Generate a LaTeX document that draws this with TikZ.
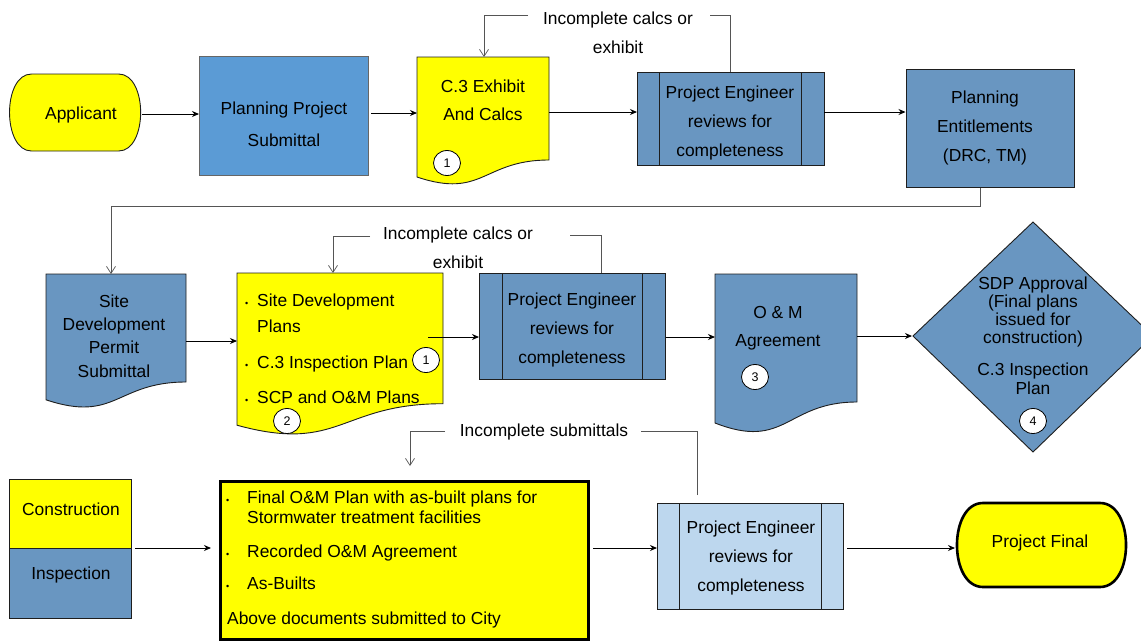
\documentclass[tikz,border=0pt]{standalone}
\usepackage{fontspec}
\setmainfont{Liberation Sans}
\usetikzlibrary{arrows.meta,shapes.geometric}
\definecolor{ylw}{RGB}{255,255,0}
\definecolor{bluA}{RGB}{91,155,213}
\definecolor{steel}{RGB}{105,150,193}
\definecolor{lblue}{RGB}{189,215,238}
\definecolor{edgec}{RGB}{30,30,30}
\definecolor{fbc}{RGB}{85,85,85}
\begin{document}
\begin{tikzpicture}[x=1pt,y=-1pt,
  shp/.style={draw=edgec, line width=0.9pt},
  thick box/.style={draw=black, line width=2.6pt},
  flow/.style={draw=black, line width=0.9pt, -{Stealth[length=7pt,width=6pt]}},
  fbarrow/.style={draw=fbc, line width=0.7pt, -{Straight Barb[length=7pt,width=9pt]}},
  fbline/.style={draw=fbc, line width=0.7pt},
  txt/.style={font=\fontsize{17.4}{29}\selectfont, align=center, inner sep=0pt},
  lbl/.style={font=\fontsize{17.4}{20}\selectfont, inner sep=0pt, anchor=base west},
  num/.style={ellipse, draw=black, line width=0.8pt, fill=white, minimum width=27pt, minimum height=25pt, inner sep=0pt, font=\fontsize{12.5}{12.5}\selectfont},
  bul/.style={font=\fontsize{9}{9}\selectfont, inner sep=0pt, anchor=base west},
  pp/.style={shp, anchor=north west},
]
\useasboundingbox (0,0) rectangle (1141,641);

% ---------------- Row 1 ----------------
% Applicant (terminator)
\draw[shp, fill=ylw] (31.5,74) -- (118.6,74) .. controls (148,74) and (148,151) .. (118.6,151)
  -- (31.5,151) .. controls (2.2,151) and (2.2,74) .. (31.5,74) -- cycle;
\node[txt] (app) at (81,114.5) {Applicant};
\coordinate (appE) at (142,114);

% Planning Project Submittal
\node[pp, fill=bluA, draw=black!60, minimum width=169pt, minimum height=119pt] (pps) at (199,56) {};
\node[txt, font=\fontsize{17.4}{32}\selectfont] (ppsT) at (284,124) {Planning Project\\Submittal};
\coordinate (ppsE) at (371,113);

% C.3 Exhibit document
\draw[shp, fill=ylw] (417,57) -- (549,57) -- (549,160) .. controls (483,160) and (483,199.2) .. (417,177) -- cycle;
\coordinate (c3W) at (417,113);
\coordinate (c3E) at (549,112);
\coordinate (c3N) at (484,57);
\node[txt, font=\fontsize{17.4}{28}\selectfont] (c3T) at (483,100) {C.3 Exhibit\\And Calcs};
\node[num] (n1a) at (447,163) {1};

% Project Engineer 1
\node[pp, fill=steel, minimum width=186.5pt, minimum height=93pt] (pe1) at (637,72) {};
\draw[shp] ([xshift=22pt]pe1.north west) -- ([xshift=22pt]pe1.south west);
\draw[shp] ([xshift=-22.5pt]pe1.north east) -- ([xshift=-22.5pt]pe1.south east);
\node[txt] (pe1T) at (730,123) {Project Engineer\\reviews for\\completeness};

% Planning Entitlements
\node[pp, fill=steel, minimum width=168.5pt, minimum height=118pt] (pent) at (905.5,69) {};
\node[txt] (pentT) at (985,128) {Planning\\Entitlements\\(DRC, TM)};

% arrows row 1
\draw[flow] (appE) -- (appE -| pps.west);
\draw[flow] (ppsE) -- (c3W);
\draw[flow] (c3E) -- (c3E -| pe1.west);
\draw[flow] (pe1.east |- c3E) -- (pent.west |- c3E);

% feedback 1
\node[txt] (fb1) at (618,33) {Incomplete calcs or\\exhibit};
\coordinate (fb1a) at (730,15);
\coordinate (fb1b) at (528,15);
\draw[fbline] (pe1.north -| fb1a) -- (fb1a) -- (710,15);
\draw[fbarrow] (fb1b) -- (fb1b -| c3N) -- (c3N);

% ---------------- Row 2 ----------------
% long feedback from Planning Entitlements to SDP submittal
\coordinate (lfA) at (980,206);
\coordinate (sdpN) at (111,274);
\draw[fbarrow] (pent.south -| lfA) -- (lfA) -- (lfA -| sdpN) -- (sdpN);

% Site Development Permit Submittal (document)
\draw[shp, fill=steel] (46,274) -- (186,274) -- (186,382) .. controls (116,382) and (116,423.2) .. (46,399.8) -- cycle;
\node[txt, font=\fontsize{17.4}{23.3}\selectfont] (sdpT) at (114,336) {Site\\Development\\Permit\\Submittal};
\coordinate (sdpE) at (186,341);

% Yellow document 2
\draw[shp, fill=ylw] (237,273) -- (443,273) -- (443,403.7) .. controls (340,403.7) and (340,453.5) .. (237,425.2) -- cycle;
\coordinate (y2W) at (237,341);
\coordinate (y2N) at (333,273);
\coordinate (y2A) at (428,337);
\node[bul] (b21) at (245,306) {•};
\node[lbl] (l21) at (257,306) {Site Development};
\node[lbl] (l22) at (257,332) {Plans};
\node[bul] (b22) at (245,368) {•};
\node[lbl] (l23) at (257,368) {C.3 Inspection Plan};
\node[bul] (b23) at (245,403) {•};
\node[lbl] (l24) at (257,403) {SCP and O\&M Plans};
\node[num] (n1b) at (426,360) {1};
\node[num] (n2) at (287,421) {2};

% Project Engineer 2
\node[pp, fill=steel, minimum width=186pt, minimum height=106pt] (pe2) at (479,273) {};
\draw[shp] ([xshift=23pt]pe2.north west) -- ([xshift=23pt]pe2.south west);
\draw[shp] ([xshift=-23pt]pe2.north east) -- ([xshift=-23pt]pe2.south east);
\node[txt] (pe2T) at (572,329.5) {Project Engineer\\reviews for\\completeness};

% O & M Agreement (document)
\draw[shp, fill=steel] (715,274) -- (857,274) -- (857,402) .. controls (786,402) and (786,450.8) .. (715,423) -- cycle;
\coordinate (omW) at (715,337);
\coordinate (omE) at (857,336);
\node[txt, font=\fontsize{17.4}{28}\selectfont] (omT) at (778,328) {O \& M\\Agreement};
\node[num] (n3) at (755,377) {3};

% Diamond
\draw[shp, fill=steel] (913,336) -- (1033,222) -- (1153,336) -- (1033,452) -- cycle;
\coordinate (diaW) at (912,336);
\node[txt, font=\fontsize{17.4}{18.3}\selectfont] (diaT1) at (1033,312) {SDP Approval\\(Final plans\\issued for\\construction)};
\node[txt, font=\fontsize{17.4}{19}\selectfont] (diaT2) at (1033,379) {C.3 Inspection\\Plan};
\node[num] (n4) at (1033,421) {4};

% arrows row 2
\draw[flow] (sdpE) -- (y2W);
\draw[flow] (y2A) -- (y2A -| pe2.west);
\draw[flow] (pe2.east |- omW) -- (omW);
\draw[flow] (omE) -- (diaW);

% feedback 2
\node[txt] (fb2) at (458,248) {Incomplete calcs or\\exhibit};
\coordinate (fb2a) at (601,235);
\coordinate (fb2b) at (370,236);
\draw[fbline] (pe2.north -| fb2a) -- (fb2a) -- (570,235);
\draw[fbarrow] (fb2b) -- (fb2b -| y2N) -- (y2N);

% ---------------- Row 3 ----------------
% Construction / Inspection
\node[pp, fill=ylw, minimum width=122pt, minimum height=69pt] (cons) at (9,479) {};
\node[pp, fill=steel, minimum width=122pt, minimum height=70pt] (insp) at (9,548) {};
\node[txt] (consT) at (71,509) {Construction};
\node[txt] (inspT) at (71,575) {Inspection};

% Big yellow box
\node[anchor=north west, thick box, fill=ylw, minimum width=368pt, minimum height=158pt] (big) at (219,480) {};
\node[bul] (b31) at (226,503) {•};
\node[lbl] (l31) at (247,503) {Final O\&M Plan with as-built plans for};
\node[lbl] (l32) at (247,523) {Stormwater treatment facilities};
\node[bul] (b32) at (226,557) {•};
\node[lbl] (l33) at (247,557) {Recorded O\&M Agreement};
\node[bul] (b33) at (226,589) {•};
\node[lbl] (l34) at (247,589) {As-Builts};
\node[lbl] (l35) at (227,624) {Above documents submitted to City};
\coordinate (bigW) at (211,548);

% Project Engineer 3
\node[pp, fill=lblue, minimum width=186pt, minimum height=106pt] (pe3) at (657,503) {};
\draw[shp] ([xshift=22pt]pe3.north west) -- ([xshift=22pt]pe3.south west);
\draw[shp] ([xshift=-22pt]pe3.north east) -- ([xshift=-22pt]pe3.south east);
\node[txt] (pe3T) at (751,557.5) {Project Engineer\\reviews for\\completeness};

% Project Final (terminator)
\draw[thick box, fill=ylw] (983,503) -- (1100,503) .. controls (1134.7,503) and (1134.7,587) .. (1100,587)
  -- (983,587) .. controls (948.3,587) and (948.3,503) .. (983,503) -- cycle;
\coordinate (pfW) at (955,548);
\node[txt] (pfT) at (1040,543) {Project Final};

% arrows row 3
\coordinate (ciE) at (135,548);
\coordinate (bigE) at (593,548);
\coordinate (pe3E) at (847,548);
\draw[flow] (ciE) -- (bigW);
\draw[flow] (bigE) -- (pe3.west |- bigE);
\draw[flow] (pe3E) -- (pfW);

% feedback 3
\node[font=\fontsize{17.4}{20}\selectfont, inner sep=0pt] (fb3) at (544,432) {Incomplete submittals};
\coordinate (fb3a) at (697,431);
\coordinate (fb3b) at (445,431);
\coordinate (bigN) at (410,466);
\draw[fbline] (pe3.north -| fb3a) ++(0,-8) -- (fb3a) -- (641,431);
\draw[fbarrow] (fb3b) -- (fb3b -| bigN) -- (bigN);
\end{tikzpicture}
\end{document}
